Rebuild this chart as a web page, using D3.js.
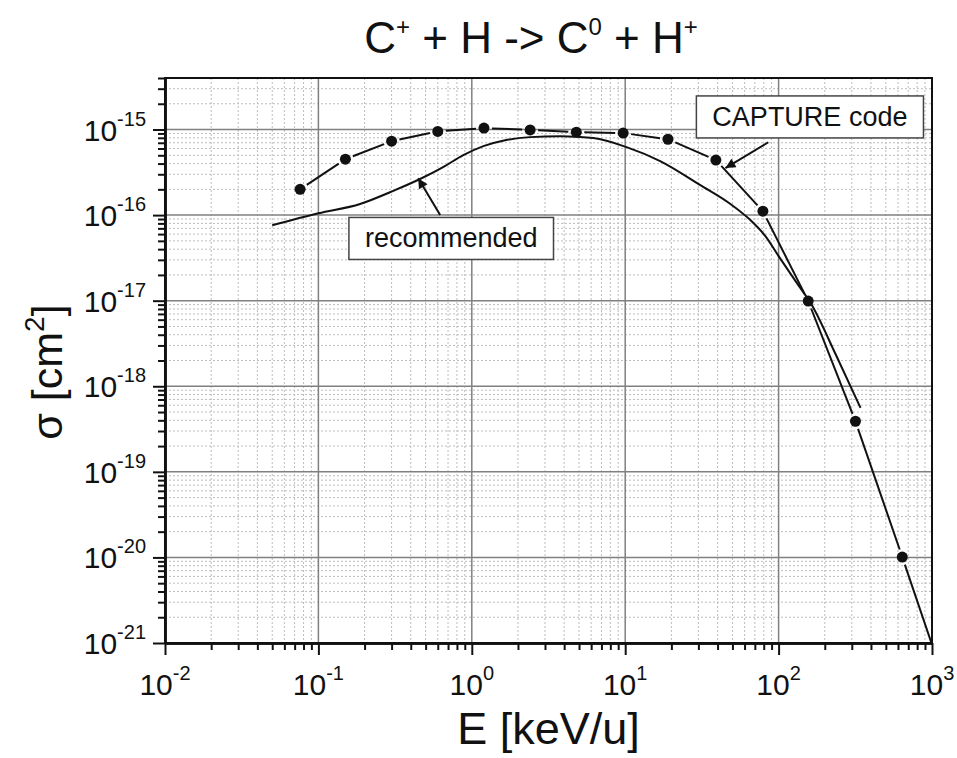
<!DOCTYPE html>
<html>
<head>
<meta charset="utf-8">
<script src="https://cdn.jsdelivr.net/npm/d3@7"></script>
<style>
  body { margin: 0; background: #fff; }
  text { font-family: "Liberation Sans", Arial, sans-serif; fill: #111; }
</style>
</head>
<body>
<svg id="chart" width="957" height="758"></svg>
<script>
// CAPTURE code points (keV/u, cm^2)
var captureE = [0.076, 0.15, 0.3, 0.6, 1.2, 2.4, 4.8, 9.7, 19, 39, 79, 156, 317, 640, 1280];
var captureSigma = [2.0e-16, 4.5e-16, 7.3e-16, 9.5e-16, 1.04e-15, 9.9e-16, 9.3e-16, 9.1e-16, 7.7e-16, 4.4e-16, 1.11e-16, 9.9e-18, 3.9e-19, 1.01e-20, 2.6e-22];

// recommended curve
var recE = [0.05, 0.1, 0.187, 0.316, 0.46, 0.65, 0.88, 1.19, 1.65, 2.4, 3.77, 6.2, 10.2, 16.9, 30.9, 48.5, 65.5, 82, 100, 129, 166, 235, 342];
var recSigma = [7.6e-17, 1.05e-16, 1.35e-16, 1.96e-16, 2.64e-16, 3.64e-16, 5.02e-16, 6.4e-16, 7.5e-16, 8.15e-16, 8.37e-16, 7.94e-16, 6.23e-16, 4.28e-16, 2.24e-16, 1.35e-16, 8.75e-17, 5.69e-17, 3.32e-17, 1.69e-17, 8.65e-18, 2.38e-18, 5.6e-19];

var xMajor = [1e-2, 1e-1, 1, 10, 100, 1000];
var xExp = ["-2", "-1", "0", "1", "2", "3"];
var yMajor = [1e-21, 1e-20, 1e-19, 1e-18, 1e-17, 1e-16, 1e-15];
var yExp = ["-21", "-20", "-19", "-18", "-17", "-16", "-15"];

var margin = {"left": 165, "right": 25, "top": 78, "bottom": 115};
var width = 957 - margin.left - margin.right;
var height = 758 - margin.top - margin.bottom;

var svg = d3.select("#chart");
var g = svg.append("g").attr("transform", "translate(" + margin.left + "," + margin.top + ")");

var x = d3.scaleLog().domain([1e-2, 1e3]).range([0, width]);
var y = d3.scaleLog().domain([1e-21, 4e-15]).range([height, 0]);

// minor tick values 2..9 per decade
var xMinor = [];
for (var d = -2; d < 3; d++) for (var k = 2; k <= 9; k++) xMinor.push(k * Math.pow(10, d));
var yMinor = [];
for (var d = -21; d < -14; d++) for (var k = 2; k <= 9; k++) {
  var v = k * Math.pow(10, d);
  if (v <= 4.01e-15) yMinor.push(v);
}

// grid
g.append("g").selectAll("line").data(xMinor).enter().append("line")
  .attr("x1", function(v) { return x(v); }).attr("x2", function(v) { return x(v); })
  .attr("y1", 0).attr("y2", height)
  .attr("stroke", "#bdbdbd").attr("stroke-width", 1).attr("stroke-dasharray", "2,2");
g.append("g").selectAll("line").data(yMinor).enter().append("line")
  .attr("y1", function(v) { return y(v); }).attr("y2", function(v) { return y(v); })
  .attr("x1", 0).attr("x2", width)
  .attr("stroke", "#bdbdbd").attr("stroke-width", 1).attr("stroke-dasharray", "2,2");
g.append("g").selectAll("line").data(xMajor.slice(1, -1)).enter().append("line")
  .attr("x1", function(v) { return x(v); }).attr("x2", function(v) { return x(v); })
  .attr("y1", 0).attr("y2", height)
  .attr("stroke", "#808080").attr("stroke-width", 1.5);
g.append("g").selectAll("line").data(yMajor.slice(1)).enter().append("line")
  .attr("y1", function(v) { return y(v); }).attr("y2", function(v) { return y(v); })
  .attr("x1", 0).attr("x2", width)
  .attr("stroke", "#808080").attr("stroke-width", 1.5);

// clip + arrow head
svg.append("defs").append("clipPath").attr("id", "plotclip")
  .append("rect").attr("width", width).attr("height", height);
svg.select("defs").append("marker").attr("id", "arrow")
  .attr("viewBox", "0 0 10 10").attr("refX", 10).attr("refY", 5)
  .attr("markerWidth", 16).attr("markerHeight", 10).attr("markerUnits", "userSpaceOnUse")
  .attr("orient", "auto")
  .append("path").attr("d", "M0,0 L10,5 L0,10 z").attr("fill", "#111");

var plot = g.append("g").attr("clip-path", "url(#plotclip)");

// recommended curve
var recData = recE.map(function(e, i) { return [e, recSigma[i]]; });
var line = d3.line()
  .x(function(d) { return x(d[0]); })
  .y(function(d) { return y(d[1]); })
  .curve(d3.curveMonotoneX);
plot.append("path").datum(recData).attr("d", line)
  .attr("fill", "none").attr("stroke", "#111").attr("stroke-width", 2);

// CAPTURE line with gaps around symbols
var gap = 8;
var capData = captureE.map(function(e, i) { return [e, captureSigma[i]]; });
for (var i = 0; i < capData.length - 1; i++) {
  var x1 = x(capData[i][0]), y1 = y(capData[i][1]);
  var x2 = x(capData[i + 1][0]), y2 = y(capData[i + 1][1]);
  var len = Math.sqrt((x2 - x1) * (x2 - x1) + (y2 - y1) * (y2 - y1));
  var ux = (x2 - x1) / len, uy = (y2 - y1) / len;
  plot.append("line")
    .attr("x1", x1 + ux * gap).attr("y1", y1 + uy * gap)
    .attr("x2", x2 - ux * gap).attr("y2", y2 - uy * gap)
    .attr("stroke", "#111").attr("stroke-width", 2);
}
plot.selectAll("circle").data(capData).enter().append("circle")
  .attr("cx", function(d) { return x(d[0]); })
  .attr("cy", function(d) { return y(d[1]); })
  .attr("r", 5.5).attr("fill", "#111");

// annotations
function labelBox(txt, cx, cy, tip, tail) {
  var grp = g.append("g");
  grp.append("line")
    .attr("x1", x(tail[0])).attr("y1", y(tail[1]))
    .attr("x2", x(tip[0])).attr("y2", y(tip[1]))
    .attr("stroke", "#111").attr("stroke-width", 2)
    .attr("marker-end", "url(#arrow)");
  var rect = grp.append("rect");
  var t = grp.append("text").attr("x", x(cx)).attr("y", y(cy)).attr("dy", "0.35em")
    .attr("text-anchor", "middle").style("font-size", "27px").text(txt);
  var bb = t.node().getBBox();
  rect.attr("x", bb.x - 16).attr("y", bb.y - 6)
    .attr("width", bb.width + 32).attr("height", bb.height + 12)
    .attr("fill", "#fff").attr("stroke", "#444").attr("stroke-width", 1.5);
}
labelBox("recommended", 0.734, 5.4e-17, [0.447, 2.7e-16], [0.622, 1.0e-16]);
labelBox("CAPTURE code", 160, 1.42e-15, [45, 3.54e-16], [85.7, 7.1e-16]);

// axes
var xAxis = g.append("g").attr("transform", "translate(0," + height + ")");
xAxis.append("g").call(d3.axisBottom(x).tickValues(xMinor).tickSize(7).tickFormat("").tickSizeOuter(0));
xAxis.append("g").call(d3.axisBottom(x).tickValues(xMajor).tickSize(12).tickFormat("").tickSizeOuter(0));
var yAxis = g.append("g");
yAxis.append("g").call(d3.axisLeft(y).tickValues(yMinor).tickSize(7).tickFormat("").tickSizeOuter(0));
yAxis.append("g").call(d3.axisLeft(y).tickValues(yMajor).tickSize(12).tickFormat("").tickSizeOuter(0));
g.selectAll(".tick line").attr("stroke", "#111").attr("stroke-width", 2);
g.selectAll(".domain").attr("stroke", "#111").attr("stroke-width", 2.5);

// frame
g.append("rect").attr("width", width).attr("height", height)
  .attr("fill", "none").attr("stroke", "#111").attr("stroke-width", 2);

// tick labels
xMajor.forEach(function(v, i) {
  var t = g.append("text").attr("x", x(v)).attr("y", height + 52)
    .attr("text-anchor", "middle").style("font-size", "30px");
  t.append("tspan").text("10");
  t.append("tspan").attr("dy", -15).style("font-size", "20px").text(xExp[i]);
});
yMajor.forEach(function(v, i) {
  var t = g.append("text").attr("x", -19).attr("y", y(v) + 11)
    .attr("text-anchor", "end").style("font-size", "30px");
  t.append("tspan").text("10");
  t.append("tspan").attr("dy", -15).style("font-size", "20px").text(yExp[i]);
});

// axis titles
svg.append("text").attr("x", margin.left + width / 2).attr("y", 744)
  .attr("text-anchor", "middle").style("font-size", "45px").text("E [keV/u]");

var yt = svg.append("text").attr("transform", "translate(62,372) rotate(-90)")
  .attr("text-anchor", "middle").style("font-size", "43px");
yt.append("tspan").text("\u03c3 [cm");
yt.append("tspan").attr("dy", -18).style("font-size", "28px").text("2");
yt.append("tspan").attr("dy", 18).text("]");

// title
var tt = svg.append("text").attr("x", 531).attr("y", 53)
  .attr("text-anchor", "middle").style("font-size", "44px");
tt.append("tspan").text("C");
tt.append("tspan").attr("dy", -18).style("font-size", "24px").text("+");
tt.append("tspan").attr("dy", 18).text(" + H -> C");
tt.append("tspan").attr("dy", -18).style("font-size", "24px").text("0");
tt.append("tspan").attr("dy", 18).text(" + H");
tt.append("tspan").attr("dy", -18).style("font-size", "24px").text("+");
</script>
</body>
</html>
